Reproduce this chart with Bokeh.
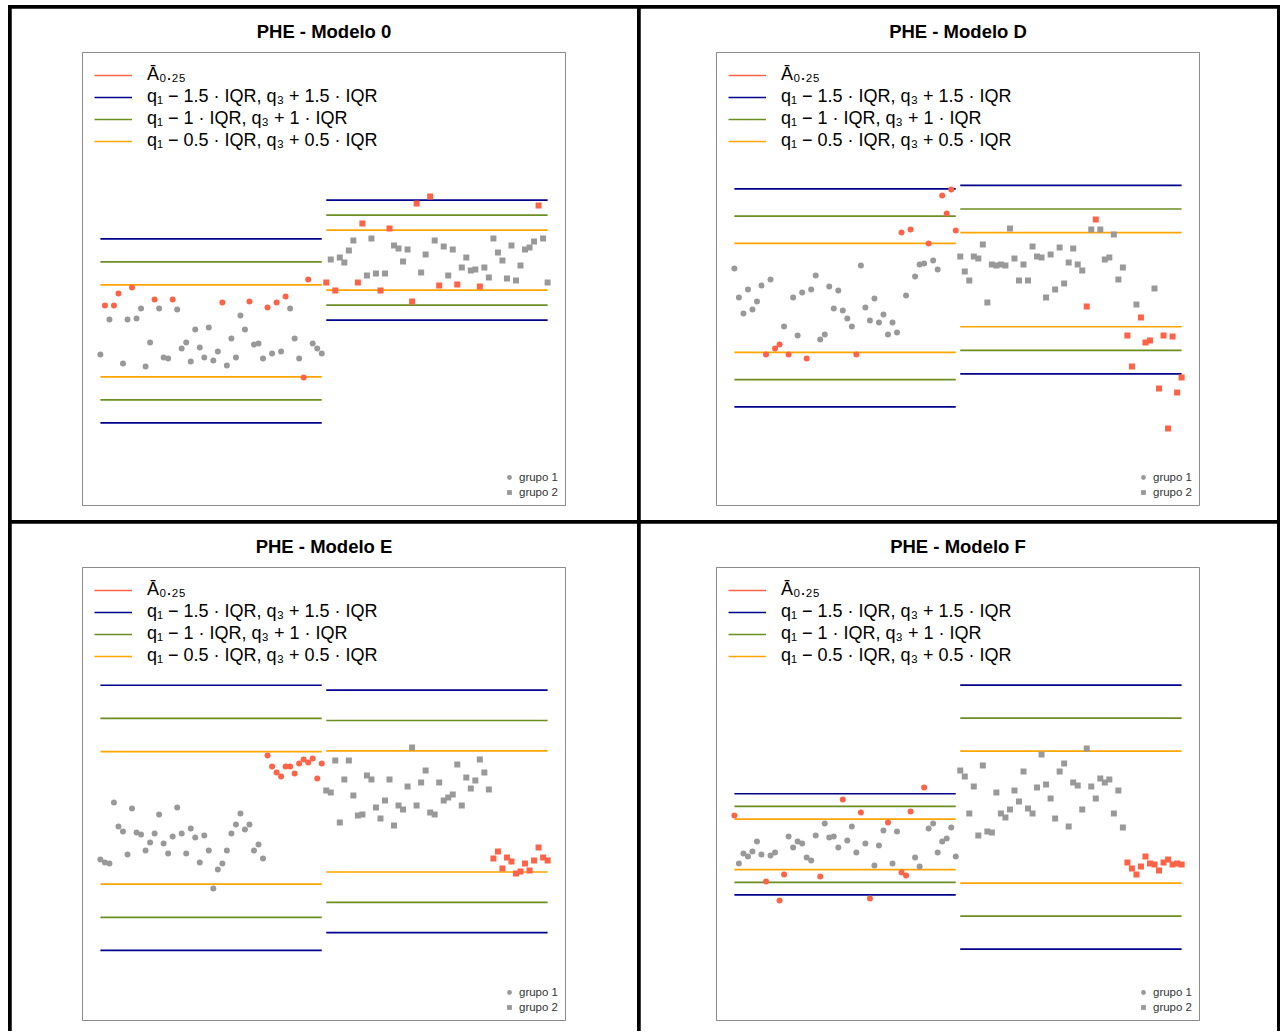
from bokeh.plotting import figure
from bokeh.models import Range1d, Legend, LegendItem, Spacer
from bokeh.layouts import row, column
from bokeh.embed import file_html
from bokeh.resources import INLINE

# ---------------- data (arbitrary units) ----------------
titles = ["PHE - Modelo 0", "PHE - Modelo D", "PHE - Modelo E", "PHE - Modelo F"]

m0_g1 = [151, 200, 186, 200, 212, 142, 186, 218, 187, 197,
         139, 163, 206, 197, 148, 147, 206, 196, 157, 163,
         144, 176, 158, 148, 178, 145, 154, 203, 140, 167,
         148, 190, 176, 204, 161, 162, 147, 198, 152, 203,
         154, 209, 197, 167, 147, 128, 226, 162, 157, 152]
m0_g2 = [223, 246, 215, 248, 243, 255, 265, 223, 282, 230,
         267, 232, 215, 232, 277, 260, 257, 244, 256, 204,
         302, 233, 251, 309, 265, 220, 259, 230, 256, 221,
         238, 248, 235, 236, 219, 238, 228, 267, 253, 245,
         227, 260, 225, 240, 256, 258, 264, 300, 267, 223]
m0_red1 = [2, 4, 5, 8, 13, 17, 28, 34, 38, 40, 42, 46, 47]
m0_red2 = [1, 3, 8, 9, 13, 15, 20, 21, 24, 26, 30, 35, 48]
m0_quart = [(151.7, 197.7), (230.3, 260.3)]

mD_g1 = [237, 208, 192, 216, 196, 204, 220, 151, 226, 157,
         161, 179, 151, 208, 170, 213, 147, 216, 230, 166,
         171, 219, 197, 215, 195, 187, 179, 151, 240, 198,
         185, 207, 183, 191, 171, 183, 173, 273, 210, 276,
         229, 241, 242, 262, 245, 236, 310, 292, 316, 275]
mD_g2 = [249, 234, 225, 249, 247, 261, 203, 241, 240, 241,
         240, 277, 247, 225, 241, 225, 259, 249, 248, 208,
         251, 216, 258, 222, 243, 257, 241, 235, 199, 276,
         286, 276, 246, 248, 271, 226, 238, 170, 139, 201,
         188, 163, 165, 217, 117, 170, 77, 169, 113, 128]
mD_red1 = [8, 10, 11, 13, 17, 28, 38, 40, 44, 47, 48, 49, 50]
mD_red2 = [29, 31, 38, 39, 41, 42, 43, 45, 46, 47, 48, 49, 50]
mD_quart = [(180.4, 234.9), (202.3, 249.4)]

mE_g1 = [161, 158, 157, 218, 194, 189, 166, 212, 188, 186,
         170, 178, 187, 206, 177, 167, 184, 213, 187, 167,
         192, 183, 158, 185, 170, 132, 151, 157, 170, 187,
         196, 207, 191, 196, 170, 176, 162, 265, 254, 248,
         244, 254, 254, 247, 257, 261, 258, 262, 242, 257]
mE_g2 = [230, 228, 260, 198, 241, 260, 225, 205, 206, 245,
         241, 213, 202, 220, 241, 195, 215, 211, 234, 273,
         215, 238, 250, 208, 206, 238, 220, 223, 226, 256,
         215, 243, 232, 240, 261, 248, 231, 162, 169, 152,
         163, 159, 147, 149, 157, 150, 160, 173, 163, 160]
mE_red1 = list(range(38, 51))
mE_red2 = list(range(38, 51))
mE_quart = [(169.5, 235.8), (178.8, 239.4)]

mF_g1 = [205, 157, 167, 164, 169, 179, 166, 139, 165, 168,
         120, 146, 184, 173, 179, 177, 163, 160, 185, 144,
         197, 183, 184, 173, 221, 180, 194, 168, 208, 177,
         122, 155, 175, 190, 198, 157, 189, 148, 145, 209,
         163, 154, 233, 192, 197, 168, 179, 182, 193, 164]
mF_g2 = [250, 244, 207, 234, 185, 255, 189, 188, 228, 207,
         203, 211, 230, 219, 249, 212, 207, 233, 266, 236,
         222, 202, 249, 257, 194, 238, 235, 211, 272, 234,
         222, 242, 238, 241, 207, 230, 193, 158, 152, 146,
         154, 164, 157, 156, 150, 158, 161, 156, 157, 156]
mF_red1 = [1, 8, 11, 12, 20, 25, 29, 31, 35, 38, 39, 40, 43]
mF_red2 = list(range(38, 51))
mF_quart = [(163.5, 188.8), (170.3, 236.3)]

iqr_factors = [1.5, 1.0, 0.5]
legend_labels = ["Ā₀.₂₅",
                 "q₁ − 1.5 · IQR, q₃ + 1.5 · IQR",
                 "q₁ − 1 · IQR, q₃ + 1 · IQR",
                 "q₁ − 0.5 · IQR, q₃ + 0.5 · IQR"]

# ---------------- style ----------------
RED = "#FF6347"
GRAY = "#999999"
LINE_COLORS = ["#00008B", "#6B8E23", "#FFA500"]
FONT = "Liberation Sans"
N = 50
NAN = float("nan")


def make_panel(title, g1, g2, red1, red2, quart, width, left, right, bottom):
    p = figure(frame_width=483, frame_height=453, width=width,
               x_range=Range1d(1 - 3.96, 2 * N + 3.96), y_range=Range1d(0, 453),
               output_backend="svg", toolbar_location=None,
               x_axis_location=None, y_axis_location=None,
               min_border_left=left, min_border_right=right,
               min_border_top=44, min_border_bottom=bottom)
    p.grid.visible = False
    p.outline_line_color = "#8c8c8c"
    p.outline_line_width = 1
    p.title.text = title
    p.title.align = "center"
    p.title.vertical_align = "middle"
    p.title.text_font = FONT
    p.title.text_font_size = "18.5px"
    p.title.text_font_style = "bold"
    p.title.text_color = "black"
    p.title.standoff = 19

    # limit lines
    line_renderers = []
    for k, col in zip(iqr_factors, LINE_COLORS):
        x0, x1, ys = [], [], []
        for gi, (q1, q3) in enumerate(quart):
            iqr = q3 - q1
            start = 1 + gi * N
            end = N + gi * N
            for yv in (q3 + k * iqr, q1 - k * iqr):
                x0.append(start)
                x1.append(end)
                ys.append(yv)
        r = p.segment(x0=x0, y0=ys, x1=x1, y1=ys, line_color=col, line_width=1.7)
        line_renderers.append(r)
    red_line = p.line(x=[NAN, NAN], y=[NAN, NAN], line_color=RED, line_width=1.7)

    # points
    gray_renderers = []
    for gi, (vals, reds, marker) in enumerate([(g1, red1, "circle"), (g2, red2, "square")]):
        idx = list(range(1, N + 1))
        xs = [i + gi * N for i in idx]
        gx = [x for x, i in zip(xs, idx) if i not in reds]
        gy = [v for v, i in zip(vals, idx) if i not in reds]
        rx = [x for x, i in zip(xs, idx) if i in reds]
        ry = [v for v, i in zip(vals, idx) if i in reds]
        gr = p.scatter(gx, gy, marker=marker, size=6, fill_color=GRAY, line_color=None)
        p.scatter(rx, ry, marker=marker, size=6, fill_color=RED, line_color=None)
        gray_renderers.append(gr)

    leg1 = Legend(items=[LegendItem(label=legend_labels[0], renderers=[red_line])] +
                  [LegendItem(label=lab, renderers=[r]) for lab, r in zip(legend_labels[1:], line_renderers)],
                  location="top_left", margin=12, padding=0, spacing=1,
                  glyph_width=38, glyph_height=20, label_height=20, label_standoff=15,
                  label_text_font=FONT, label_text_font_size="18px", label_text_color="black",
                  border_line_color=None, background_fill_alpha=0)
    p.add_layout(leg1)
    leg2 = Legend(items=[LegendItem(label="grupo 1", renderers=[gray_renderers[0]]),
                         LegendItem(label="grupo 2", renderers=[gray_renderers[1]])],
                  location="bottom_right", margin=7, padding=0, spacing=3,
                  glyph_width=12, glyph_height=12, label_height=12, label_standoff=4,
                  label_text_font=FONT, label_text_font_size="11.5px", label_text_color="#333333",
                  border_line_color=None, background_fill_alpha=0)
    p.add_layout(leg2)
    return p


p0 = make_panel(titles[0], m0_g1, m0_g2, m0_red1, m0_red2, m0_quart, 626, 71, 72, 15)
pD = make_panel(titles[1], mD_g1, mD_g2, mD_red1, mD_red2, mD_quart, 637, 76, 78, 15)
pE = make_panel(titles[2], mE_g1, mE_g2, mE_red1, mE_red2, mE_quart, 626, 71, 72, 11)
pF = make_panel(titles[3], mF_g1, mF_g2, mF_red1, mF_red2, mF_quart, 637, 76, 78, 11)

TOTAL_W = 3 + 626 + 3 + 637 + 3
r1 = row(Spacer(width=3, height=512), p0, Spacer(width=3, height=512), pD, Spacer(width=3, height=512))
r2 = row(Spacer(width=3, height=508), pE, Spacer(width=3, height=508), pF, Spacer(width=3, height=508))
framed = column(Spacer(width=TOTAL_W, height=3), r1, Spacer(width=TOTAL_W, height=3), r2,
                styles={"background-color": "black"})
layout = column(Spacer(width=TOTAL_W, height=5), row(Spacer(width=8, height=1023), framed))

open("out.html", "w").write(file_html(layout, INLINE))
